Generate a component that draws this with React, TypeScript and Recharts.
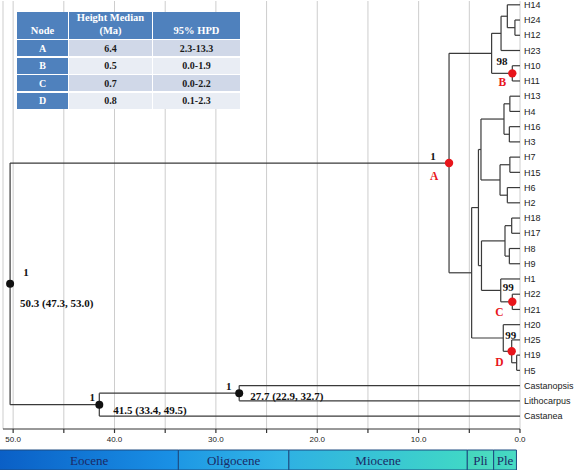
import React from 'react';
import {
  ComposedChart,
  XAxis,
  YAxis,
  CartesianGrid,
  ReferenceLine,
  ReferenceArea,
  Scatter,
} from 'recharts';

// ---------------- data ----------------
const tipNames = [
  'H14', 'H24', 'H12', 'H23', 'H10', 'H11', 'H13', 'H4', 'H16', 'H3',
  'H7', 'H15', 'H6', 'H2', 'H18', 'H17', 'H8', 'H9', 'H1', 'H22',
  'H21', 'H20', 'H25', 'H19', 'H5', 'Castanopsis', 'Lithocarpus', 'Castanea',
];

// internal nodes: age (Ma), children (tips or nodes)
const treeNodes = [
  { id: 'h24h12', age: 0.5, children: ['H24', 'H12'] },
  { id: 'h14g', age: 1.25, children: ['H14', 'h24h12'] },
  { id: 'h23g', age: 1.87, children: ['h14g', 'H23'] },
  { id: 'B', age: 0.76, children: ['H10', 'H11'] },
  { id: 'upper', age: 2.8, children: ['h23g', 'B'] },
  { id: 'h13h4', age: 1.0, children: ['H13', 'H4'] },
  { id: 'h16h3', age: 1.05, children: ['H16', 'H3'] },
  { id: 'g4a', age: 1.58, children: ['h13h4', 'h16h3'] },
  { id: 'h7h15', age: 1.0, children: ['H7', 'H15'] },
  { id: 'h6h2', age: 1.25, children: ['H6', 'H2'] },
  { id: 'g4b', age: 1.97, children: ['h7h15', 'h6h2'] },
  { id: 'g8', age: 3.85, children: ['g4a', 'g4b'] },
  { id: 'h18h17', age: 0.82, children: ['H18', 'H17'] },
  { id: 'h8h9', age: 1.05, children: ['H8', 'H9'] },
  { id: 'g4c', age: 1.48, children: ['h18h17', 'h8h9'] },
  { id: 'C', age: 0.76, children: ['H22', 'H21'] },
  { id: 'h1g', age: 1.9, children: ['H1', 'C'] },
  { id: 'mid', age: 3.8, children: ['g4c', 'h1g'] },
  { id: 'g12', age: 4.1, children: ['g8', 'mid'] },
  { id: 'h19h5', age: 0.33, children: ['H19', 'H5'] },
  { id: 'D', age: 0.82, children: ['H25', 'h19h5'] },
  { id: 'h20g', age: 1.65, children: ['H20', 'D'] },
  { id: 'lower', age: 4.77, children: ['g12', 'h20g'] },
  { id: 'A', age: 7.0, children: ['upper', 'lower'] },
  { id: 'cplc', age: 27.7, children: ['Castanopsis', 'Lithocarpus'] },
  { id: 'outg', age: 41.5, children: ['cplc', 'Castanea'] },
  { id: 'root', age: 50.3, children: ['A', 'outg'] },
];

const markedNodes = ['root', 'outg', 'cplc', 'A', 'B', 'C', 'D'];
const supportValues = ['1', '1', '1', '1', '98', '99', '99'];
const ageIntervals = ['50.3 (47.3, 53.0)', '41.5 (33.4, 49.5)', '27.7 (22.9, 32.7)', '', '', '', ''];
const nodeLetters = ['', '', '', 'A', 'B', 'C', 'D'];

const axisTicks = [0, 5, 10, 15, 20, 25, 30, 35, 40, 45, 50];

const tableNodes = ['A', 'B', 'C', 'D'];
const heightMedians = ['6.4', '0.5', '0.7', '0.8'];
const hpd95 = ['2.3-13.3', '0.0-1.9', '0.0-2.2', '0.1-2.3'];

const epochNames = ['Eocene', 'Oligocene', 'Miocene', 'Pli', 'Ple'];
const epochStart = [56, 33.7, 22.8, 5.2, 2.6];
const epochEnd = [33.7, 22.8, 5.2, 2.6, 0.35];

// ---------------- styles ----------------
const epochColors = [
  ['#0652be', '#1a92e6'],
  ['#1e98e4', '#34b8e6'],
  ['#2fb2e2', '#40d8c6'],
  ['#44d6bc', '#4cdcc2'],
  ['#40d4c0', '#4adcc4'],
];

const markStyle: Record<string, any> = {
  root: { color: '#111', r: 4, sx: 16, sy: -8, ax: 10, ay: 23 },
  outg: { color: '#111', r: 4, sx: -7, sy: -4, ax: 14, ay: 9 },
  cplc: { color: '#111', r: 4, sx: -10.5, sy: -3.5, ax: 11, ay: 7 },
  A: { color: '#e8151b', r: 4.2, sx: -16, sy: -3.5, lx: -15, ly: 16.5 },
  B: { color: '#e8151b', r: 4.2, sx: -10.3, sy: -8, lx: -10, ly: 12.8 },
  C: { color: '#e8151b', r: 4.2, sx: -4, sy: -10.8, lx: -12.8, ly: 14.2 },
  D: { color: '#e8151b', r: 4.2, sx: -1, sy: -12.3, lx: -12.4, ly: 14.4 },
};

const SERIF = '"Liberation Serif", "Times New Roman", serif';
const SANS = '"Liberation Sans", Arial, sans-serif';

// ---------------- tree layout ----------------
const nodeById: Record<string, any> = {};
treeNodes.forEach((n) => (nodeById[n.id] = n));
const posY: Record<string, number> = {};
const posAge: Record<string, number> = {};

function place(id: string): number {
  if (posY[id] !== undefined) return posY[id];
  const ti = tipNames.indexOf(id);
  if (ti >= 0) {
    posY[id] = ti;
    posAge[id] = 0;
    return ti;
  }
  const n = nodeById[id];
  const ys = n.children.map((c: string) => place(c));
  posY[id] = (ys[0] + ys[ys.length - 1]) / 2;
  posAge[id] = n.age;
  return posY[id];
}
place('root');

type Seg = { x1: number; y1: number; x2: number; y2: number };
const segments: Seg[] = [];
treeNodes.forEach((n) => {
  const ys = n.children.map((c: string) => posY[c]);
  segments.push({ x1: n.age, y1: ys[0], x2: n.age, y2: ys[ys.length - 1] });
  n.children.forEach((c: string) => {
    segments.push({ x1: n.age, y1: posY[c], x2: posAge[c], y2: posY[c] });
  });
});

const markData = markedNodes.map((id, i) => ({
  id,
  t: posAge[id],
  y: posY[id],
  support: supportValues[i],
  interval: ageIntervals[i],
  letter: nodeLetters[i],
}));

// ---------------- components ----------------
const NodeMark = (props: any) => {
  const { cx, cy } = props;
  const d = props.payload ?? props;
  const st = markStyle[d.id];
  if (cx == null || cy == null || !st) return null;
  return (
    <g>
      <circle cx={cx} cy={cy} r={st.r} fill={st.color} />
      {d.support ? (
        <text x={cx + st.sx} y={cy + st.sy} textAnchor="middle" fontFamily={SERIF} fontWeight="bold" fontSize={11} fill="#111">
          {d.support}
        </text>
      ) : null}
      {d.interval ? (
        <text x={cx + st.ax} y={cy + st.ay} textAnchor="start" fontFamily={SERIF} fontWeight="bold" fontSize={11} fill="#111">
          {d.interval}
        </text>
      ) : null}
      {d.letter ? (
        <text x={cx + st.lx} y={cy + st.ly} textAnchor="middle" fontFamily={SERIF} fontWeight="bold" fontSize={11.5} fill={st.color}>
          {d.letter}
        </text>
      ) : null}
    </g>
  );
};

const EpochLabel = (props: any) => {
  const vb = props.viewBox || {};
  const x0 = Math.max(vb.x ?? 0, 0);
  const x1 = (vb.x ?? 0) + (vb.width ?? 0);
  return (
    <text
      x={(x0 + x1) / 2}
      y={(vb.y ?? 0) + (vb.height ?? 0) / 2 + 4.5}
      textAnchor="middle"
      fontFamily={SERIF}
      fontSize={13}
      fill="#1b2a66"
    >
      {props.value}
    </text>
  );
};

const DataTable = () => {
  const cell = (bg: string, color: string, content: React.ReactNode, key: string, pb = 1) => (
    <div
      key={key}
      style={{
        background: bg,
        color,
        display: 'flex',
        alignItems: 'flex-end',
        justifyContent: 'center',
        paddingBottom: pb,
        boxSizing: 'border-box',
        textAlign: 'center',
        lineHeight: 1.25,
      }}
    >
      {content}
    </div>
  );
  const header = '#4f81bd';
  return (
    <div
      style={{
        position: 'absolute',
        left: 17,
        top: 12,
        display: 'grid',
        gridTemplateColumns: '51px 83px 87px',
        gridTemplateRows: '27px 16px 16px 16px 16px',
        columnGap: 1,
        rowGap: 1.4,
        fontFamily: SERIF,
        fontWeight: 'bold',
        fontSize: 10,
        background: '#fff',
        zIndex: 5,
      }}
    >
      {cell(header, '#fff', <span style={{ fontSize: 10.5 }}>Node</span>, 'h0', 2)}
      {cell(header, '#fff', <span style={{ fontSize: 10.5 }}>Height Median<br />(Ma)</span>, 'h1', 2)}
      {cell(header, '#fff', <span style={{ fontSize: 10.5 }}>95% HPD</span>, 'h2', 2)}
      {tableNodes.map((n, i) => {
        const bg = i % 2 === 0 ? '#d0d8e8' : '#e9edf4';
        return [
          cell(header, '#fff', n, 'n' + i),
          cell(bg, '#1a1a1a', heightMedians[i], 'm' + i),
          cell(bg, '#1a1a1a', hpd95[i], 'p' + i),
        ];
      })}
    </div>
  );
};

export default function App() {
  return (
    <div style={{ position: 'absolute', left: 0, top: 0, width: 577, height: 470, background: '#fff', overflow: 'hidden' }}>
      <div style={{ position: 'absolute', left: 0, top: 0 }}>
        <ComposedChart width={577} height={450} margin={{ top: 1, right: 0, bottom: 0, left: 3 }} data={markData}>
          <CartesianGrid horizontal={false} stroke="#cdcdcd" strokeWidth={1} />
          <XAxis
            type="number"
            dataKey="t"
            domain={[0, 51]}
            reversed
            allowDataOverflow
            ticks={axisTicks}
            interval={0}
            height={21}
            tickSize={4}
            tickMargin={3}
            tickFormatter={(v: number) => (v % 10 === 0 ? v.toFixed(1) : '')}
            axisLine={{ stroke: '#333', strokeWidth: 1 }}
            tickLine={{ stroke: '#333', strokeWidth: 1.2 }}
            tick={{ fontSize: 8, fill: '#222', fontFamily: SANS }}
          />
          <YAxis
            type="number"
            dataKey="y"
            orientation="right"
            domain={[-0.25, 27.85]}
            reversed
            allowDataOverflow
            ticks={tipNames.map((_, i) => i)}
            interval={0}
            width={57}
            tickSize={0}
            tickMargin={4}
            axisLine={false}
            tickLine={false}
            tickFormatter={(v: number) => tipNames[v] ?? ''}
            tick={{ fontSize: 9, fill: '#222', fontFamily: SANS, textAnchor: 'start' }}
          />
          {segments.map((s, i) => (
            <ReferenceLine
              key={'s' + i}
              segment={[{ x: s.x1, y: s.y1 }, { x: s.x2, y: s.y2 }]}
              stroke="#3a3a3a"
              strokeWidth={1.2}
              ifOverflow="visible"
            />
          ))}
          <Scatter data={markData} shape={NodeMark} isAnimationActive={false} />
        </ComposedChart>
      </div>
      <div style={{ position: 'absolute', left: 0, top: 449 }}>
        <ComposedChart width={577} height={22} margin={{ top: 1, right: 57, bottom: 1, left: 3 }} data={[{ t: 0, v: 0 }]}>
          <defs>
            {epochColors.map((c, i) => (
              <linearGradient key={i} id={'epoch' + i} x1="0" y1="0" x2="1" y2="0">
                <stop offset="0%" stopColor={c[0]} />
                <stop offset="100%" stopColor={c[1]} />
              </linearGradient>
            ))}
          </defs>
          <XAxis type="number" dataKey="t" domain={[0, 51]} reversed allowDataOverflow hide />
          <YAxis type="number" dataKey="v" domain={[0, 1]} hide />
          {epochNames.map((name, i) => (
            <ReferenceArea
              key={name}
              x1={epochStart[i]}
              x2={epochEnd[i]}
              y1={0}
              y2={1}
              fill={`url(#epoch${i})`}
              fillOpacity={1}
              stroke="#1d4a80"
              strokeWidth={1}
              ifOverflow="visible"
              label={<EpochLabel value={name} />}
            />
          ))}
        </ComposedChart>
      </div>
      <DataTable />
    </div>
  );
}
